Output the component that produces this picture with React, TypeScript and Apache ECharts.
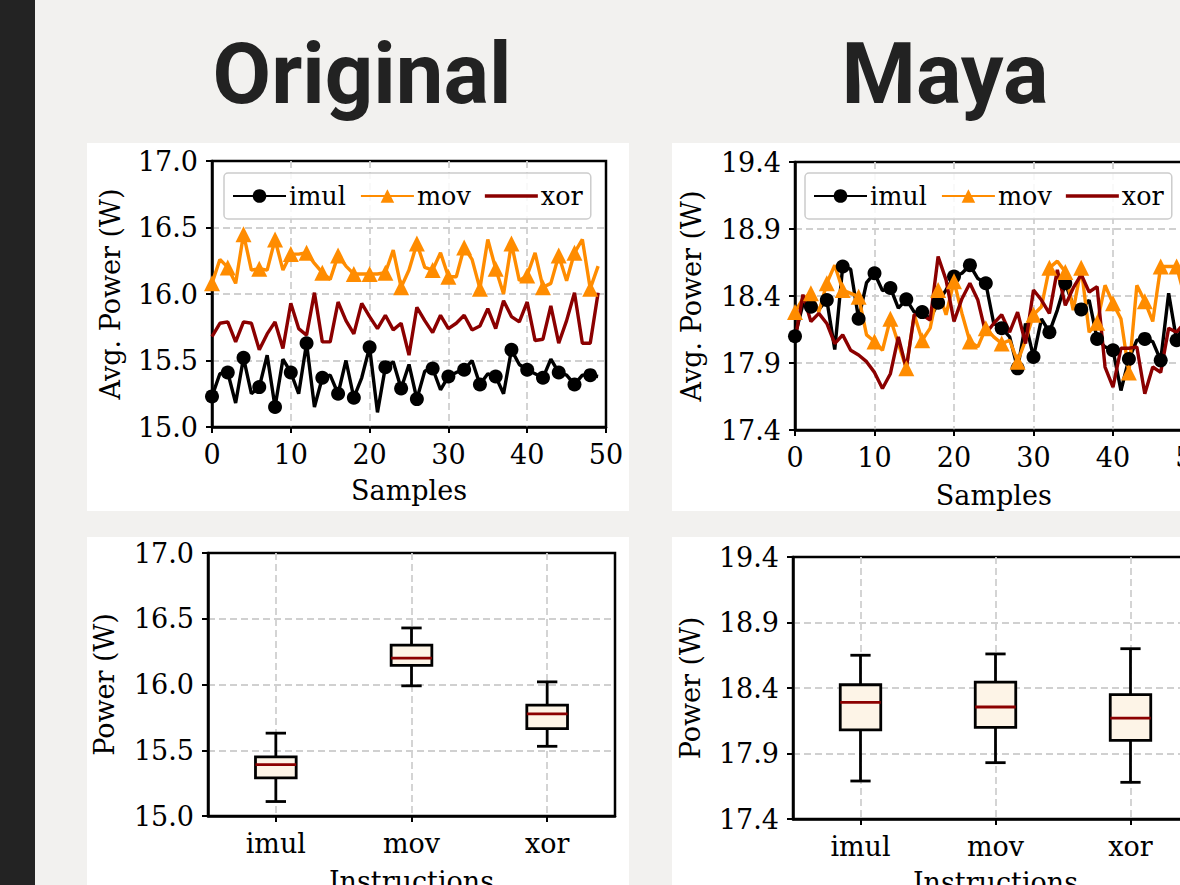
import React, { useEffect, useRef } from "react";
import * as echarts from "echarts";

// ---------------- data ----------------
const SAMPLES = [
  0, 1, 2, 3, 4, 5, 6, 7, 8, 9, 10, 11, 12, 13, 14, 15, 16, 17, 18, 19, 20, 21, 22, 23, 24,
  25, 26, 27, 28, 29, 30, 31, 32, 33, 34, 35, 36, 37, 38, 39, 40, 41, 42, 43, 44, 45, 46, 47, 48, 49,
];

const ORIG_IMUL = [
  15.23, 15.4, 15.41, 15.18, 15.52, 15.25, 15.3, 15.54, 15.15, 15.51,
  15.41, 15.25, 15.63, 15.15, 15.37, 15.39, 15.25, 15.5, 15.22, 15.37,
  15.6, 15.11, 15.45, 15.49, 15.29, 15.47, 15.21, 15.42, 15.44, 15.28,
  15.38, 15.41, 15.43, 15.5, 15.32, 15.4, 15.38, 15.25, 15.58, 15.47,
  15.43, 15.4, 15.37, 15.51, 15.41, 15.39, 15.32, 15.39, 15.39, 15.38,
];
const ORIG_MOV = [
  16.08, 16.26, 16.2, 16.08, 16.45, 16.18, 16.19, 16.18, 16.41, 16.18,
  16.3, 16.3, 16.31, 16.23, 16.16, 16.11, 16.29, 16.21, 16.15, 16.15,
  16.15, 16.15, 16.16, 16.33, 16.05, 16.18, 16.38, 16.2, 16.18, 16.31,
  16.13, 16.13, 16.35, 16.26, 16.04, 16.41, 16.19, 16.0, 16.38, 16.1,
  16.14, 16.31, 16.05, 16.08, 16.29, 16.1, 16.31, 16.41, 16.04, 16.21,
];
const ORIG_XOR = [
  15.68, 15.78, 15.79, 15.64, 15.79, 15.78, 15.58, 15.7, 15.79, 15.59,
  15.93, 15.74, 15.69, 16.01, 15.64, 15.64, 15.94, 15.8, 15.7, 15.93,
  15.83, 15.74, 15.84, 15.73, 15.78, 15.54, 15.9, 15.8, 15.71, 15.84,
  15.74, 15.78, 15.84, 15.73, 15.76, 15.89, 15.74, 15.95, 15.83, 15.79,
  15.94, 15.65, 15.66, 15.91, 15.63, 15.8, 16.01, 15.63, 15.63, 16.01,
];

const MAYA_IMUL = [
  18.1, 18.34, 18.32, 18.3, 18.37, 18.0, 18.62, 18.6, 18.23, 18.5,
  18.57, 18.44, 18.46, 18.31, 18.375, 18.28, 18.28, 18.23, 18.35, 18.445,
  18.545, 18.57, 18.63, 18.53, 18.495, 18.195, 18.16, 18.095, 17.86, 18.195,
  17.945, 18.23, 18.13, 18.295, 18.495, 18.33, 18.3, 18.37, 18.08, 18.02,
  17.995, 17.695, 17.93, 18.07, 18.08, 18.06, 17.92, 18.42, 18.07, 18.2,
];
const MAYA_MOV = [
  18.28, 18.38, 18.42, 18.28, 18.495, 18.63, 18.445, 18.42, 18.395, 18.11,
  18.06, 17.995, 18.23, 18.045, 17.86, 18.26, 18.07, 18.16, 18.445, 18.26,
  18.51, 18.27, 18.06, 18.02, 18.16, 18.095, 18.045, 18.07, 17.91, 18.07,
  18.26, 18.32, 18.61, 18.66, 18.58, 18.295, 18.61, 18.13, 18.2, 18.48,
  18.345, 18.23, 17.83, 18.48, 18.36, 18.21, 18.62, 18.62, 18.62, 18.4,
];
const MAYA_XOR = [
  18.07, 18.41, 18.21, 18.27, 18.195, 18.045, 18.11, 17.995, 17.96, 17.91,
  17.83, 17.71, 17.82, 18.095, 17.86, 18.26, 18.26, 18.22, 18.695, 18.52,
  18.21, 18.38, 18.495, 18.37, 18.12, 18.195, 18.26, 18.13, 18.28, 18.045,
  18.445, 18.37, 18.27, 18.595, 18.33, 18.46, 18.56, 18.43, 18.47, 17.87,
  17.72, 18.01, 18.01, 18.02, 17.67, 17.87, 17.83, 18.16, 18.13, 18.2,
];

const CATEGORIES = ["imul", "mov", "xor"];
// [lower whisker, Q1, median, Q3, upper whisker]
const ORIG_BOX_IMUL = [15.11, 15.29, 15.39, 15.45, 15.63];
const ORIG_BOX_MOV = [15.99, 16.145, 16.2, 16.3, 16.43];
const ORIG_BOX_XOR = [15.53, 15.665, 15.777, 15.843, 16.02];
const MAYA_BOX_IMUL = [17.69, 18.08, 18.29, 18.425, 18.65];
const MAYA_BOX_MOV = [17.83, 18.1, 18.255, 18.445, 18.66];
const MAYA_BOX_XOR = [17.68, 18.0, 18.17, 18.35, 18.7];

const ORIG_Y = [15.0, 17.0];
const MAYA_Y = [17.4, 19.4];
const Y_STEP = 0.5;
const X_RANGE = [0, 50];
const X_STEP = 10;

// ---------------- styles ----------------
const FONT = "DejaVu Serif";
const FS = 27;
const TXT = "#000000";
const COLORS: Record<string, string> = { imul: "#000000", mov: "#ff8c00", xor: "#8b0000" };
const SYMBOLS: Record<string, string> = { imul: "circle", mov: "triangle", xor: "none" };
const SYMSIZE: Record<string, number> = { imul: 14, mov: 16, xor: 0 };

const axisCommon = {
  axisLine: { show: true, lineStyle: { color: "#000", width: 2.5 } },
  axisTick: { show: true, inside: false, length: 6, lineStyle: { color: "#000", width: 2 } },
  splitLine: {
    show: true,
    showMinLine: false,
    showMaxLine: false,
    lineStyle: { color: "#d0d0d0", width: 1.8, type: [7, 4] },
  },
  nameTextStyle: { fontFamily: FONT, fontSize: FS, color: TXT },
};

function lineSeries(name: string, values: number[], idx: number) {
  return {
    type: "line",
    name,
    xAxisIndex: idx,
    yAxisIndex: idx,
    data: values.map((v, k) =>
      k % 2 === 0 ? [SAMPLES[k], v] : { value: [SAMPLES[k], v], symbol: "none" }
    ),
    symbol: SYMBOLS[name],
    symbolSize: SYMSIZE[name],
    showSymbol: true,
    lineStyle: { color: COLORS[name], width: 3.4 },
    itemStyle: { color: COLORS[name] },
    emphasis: { disabled: true },
    silent: true,
  };
}

function boxRender(params: any, api: any) {
  const c = api.value(0);
  const lo = api.coord([c, api.value(1)]);
  const q1 = api.coord([c, api.value(2)]);
  const md = api.coord([c, api.value(3)]);
  const q3 = api.coord([c, api.value(4)]);
  const hi = api.coord([c, api.value(5)]);
  const band = api.size([1, 0])[0];
  const bw = band * 0.3;
  const cx = md[0];
  const st = { stroke: "#000", lineWidth: 2.8 };
  return {
    type: "group",
    children: [
      { type: "line", shape: { x1: cx, y1: hi[1], x2: cx, y2: q3[1] }, style: st },
      { type: "line", shape: { x1: cx, y1: q1[1], x2: cx, y2: lo[1] }, style: st },
      { type: "line", shape: { x1: cx - bw / 4, y1: hi[1], x2: cx + bw / 4, y2: hi[1] }, style: st },
      { type: "line", shape: { x1: cx - bw / 4, y1: lo[1], x2: cx + bw / 4, y2: lo[1] }, style: st },
      {
        type: "rect",
        shape: { x: cx - bw / 2, y: q3[1], width: bw, height: q1[1] - q3[1] },
        style: { fill: "#fdf4e7", stroke: "#000", lineWidth: 2.8 },
      },
      {
        type: "line",
        shape: { x1: cx - bw / 2, y1: md[1], x2: cx + bw / 2, y2: md[1] },
        style: { stroke: "#8b0000", lineWidth: 2.8 },
      },
    ],
  };
}

function boxSeries(idx: number, rows: number[][]) {
  return {
    type: "custom",
    xAxisIndex: idx,
    yAxisIndex: idx,
    renderItem: boxRender,
    encode: { x: 0, y: [1, 2, 3, 4, 5] },
    data: rows.map((r, k) => [k, ...r]),
    silent: true,
    z: 3,
  };
}

function legend(left: number) {
  return {
    left,
    top: 173,
    orient: "horizontal",
    data: [
      { name: "imul" },
      { name: "mov" },
      { name: "xor", icon: "path://M0,0H53V3.4H0Z" },
    ],
    itemWidth: 53,
    itemHeight: 17,
    itemGap: 14,
    padding: [10, 8, 10, 8],
    backgroundColor: "rgba(255,255,255,0.85)",
    borderColor: "#cccccc",
    borderWidth: 1.5,
    borderRadius: 4,
    selectedMode: false,
    textStyle: { fontFamily: FONT, fontSize: 25.5, color: TXT, padding: [0, 0, 0, -2] },
  };
}

const fmt1 = (v: number) => v.toFixed(1);

function buildOption() {
  const grids = [
    { left: 212, top: 161, width: 394, height: 266 },
    { left: 795, top: 162, width: 397.5, height: 268 },
    { left: 208, top: 553, width: 407, height: 263 },
    { left: 793, top: 557, width: 405, height: 262 },
  ].map((g) => ({
    ...g,
    show: true,
    borderColor: "#000",
    borderWidth: 2.5,
    backgroundColor: "transparent",
    containLabel: false,
    outerBoundsMode: "none",
  }));

  const lineX = (gi: number, gap: number) => ({
    ...axisCommon,
    type: "value",
    gridIndex: gi,
    min: X_RANGE[0],
    max: X_RANGE[1],
    interval: X_STEP,
    name: "Samples",
    nameLocation: "middle",
    nameGap: gap,
    axisLabel: { fontFamily: FONT, fontSize: FS, color: TXT, margin: 14 },
  });
  const valY = (gi: number, range: number[], name: string, gap: number) => ({
    ...axisCommon,
    type: "value",
    gridIndex: gi,
    min: range[0],
    max: range[1],
    interval: Y_STEP,
    name,
    nameLocation: "middle",
    nameGap: gap,
    axisLabel: { fontFamily: FONT, fontSize: FS, color: TXT, margin: 14, formatter: fmt1 },
  });
  const catX = (gi: number, gap: number) => ({
    ...axisCommon,
    type: "category",
    gridIndex: gi,
    data: CATEGORIES,
    name: "Instructions",
    nameLocation: "middle",
    nameGap: gap,
    axisTick: { ...axisCommon.axisTick, alignWithLabel: true },
    splitLine: { show: true, alignWithLabel: true, lineStyle: axisCommon.splitLine.lineStyle },
    axisLabel: { fontFamily: FONT, fontSize: FS, color: TXT, margin: 14 },
  });

  const title = (text: string, x: number) => ({
    type: "text",
    x,
    y: 74,
    style: {
      text,
      fontFamily: "Roboto",
      fontWeight: "bold",
      fontSize: 85,
      fill: "#222",
      textAlign: "center",
      textVerticalAlign: "middle",
      align: "center",
      verticalAlign: "middle",
    },
  });

  return {
    animation: false,
    backgroundColor: "transparent",
    textStyle: { fontFamily: FONT },
    graphic: [title("Original", 362), title("Maya", 945)],
    legend: [legend(224), legend(805)],
    grid: grids,
    xAxis: [lineX(0, 50), lineX(1, 52), catX(2, 52), catX(3, 50)],
    yAxis: [
      valY(0, ORIG_Y, "Avg. Power (W)", 88),
      valY(1, MAYA_Y, "Avg. Power (W)", 90),
      valY(2, ORIG_Y, "Power (W)", 90),
      valY(3, MAYA_Y, "Power (W)", 89),
    ],
    series: [
      lineSeries("imul", ORIG_IMUL, 0),
      lineSeries("mov", ORIG_MOV, 0),
      lineSeries("xor", ORIG_XOR, 0),
      lineSeries("imul", MAYA_IMUL, 1),
      lineSeries("mov", MAYA_MOV, 1),
      lineSeries("xor", MAYA_XOR, 1),
      boxSeries(2, [ORIG_BOX_IMUL, ORIG_BOX_MOV, ORIG_BOX_XOR]),
      boxSeries(3, [MAYA_BOX_IMUL, MAYA_BOX_MOV, MAYA_BOX_XOR]),
    ],
  };
}

export default function App() {
  const ref = useRef<HTMLDivElement>(null);
  useEffect(() => {
    if (!ref.current) return;
    const chart = echarts.init(ref.current, undefined, { renderer: "svg", width: 1180, height: 885 });
    chart.setOption(buildOption() as any);
    return () => chart.dispose();
  }, []);

  const panel = (left: number, top: number, width: number, height: number) => (
    <div style={{ position: "absolute", left, top, width, height, background: "#ffffff" }} />
  );

  return (
    <div
      style={{
        position: "fixed",
        left: 0,
        top: 0,
        width: 1180,
        height: 885,
        overflow: "hidden",
        background: "#f2f1ef",
      }}
    >
      <div style={{ position: "absolute", left: 0, top: 0, width: 35, height: 885, background: "#232323" }} />
      {panel(87, 143, 542, 368)}
      {panel(672, 143, 520, 368)}
      {panel(87, 537, 542, 360)}
      {panel(672, 537, 520, 360)}
      <div ref={ref} style={{ position: "absolute", left: 0, top: 0, width: 1180, height: 885 }} />
    </div>
  );
}
